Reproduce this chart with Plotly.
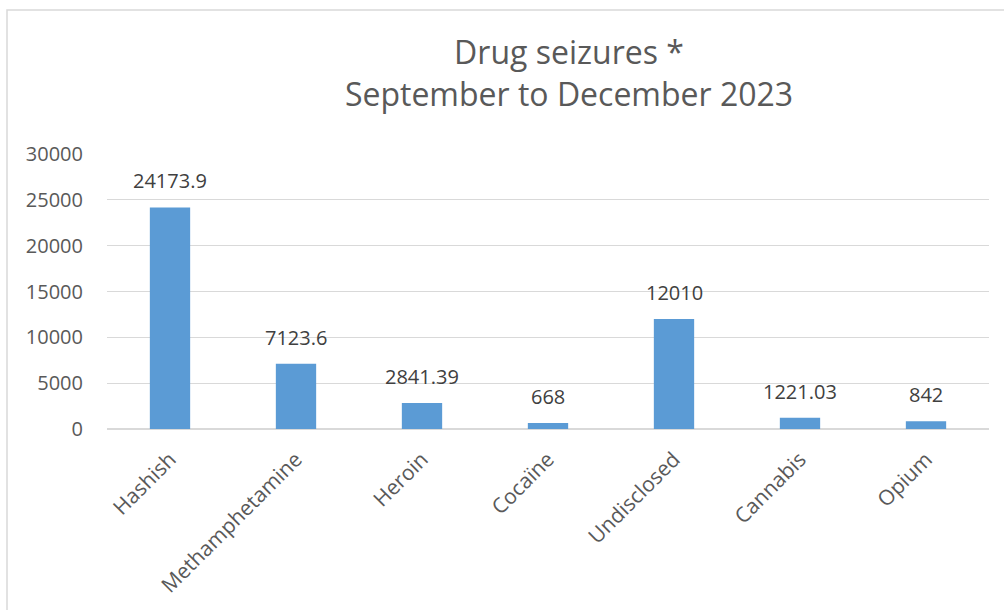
import plotly.graph_objects as go

categories = ["Hashish", "Methamphetamine", "Heroin", "Cocaïne", "Undisclosed", "Cannabis", "Opium"]
values = [24173.9, 7123.6, 2841.39, 668, 12010, 1221.03, 842]
labels = ["24173.9", "7123.6", "2841.39", "668", "12010", "1221.03", "842"]
y_ticks = [0, 5000, 10000, 15000, 20000, 25000, 30000]
y_tick_text = ["0", "5000", "10000", "15000", "20000", "25000", "30000"]

W, H = 1004, 610
ml, mr, mt, mb = 107, 15, 154, 181
pw = W - ml - mr
ph = H - mt - mb

font = "'Open Sans', sans-serif"
grey = "#595959"

fig = go.Figure(go.Bar(
    x=categories, y=values,
    marker=dict(color="#5B9BD5", line=dict(width=0)),
))

for c, v, t in zip(categories, values, labels):
    fig.add_annotation(x=c, y=v, text=t, showarrow=False, yanchor="bottom",
                       yshift=11, font=dict(size=20, color="#404040", family=font))

fig.update_layout(
    width=W, height=H,
    margin=dict(l=ml, r=mr, t=mt, b=mb, autoexpand=False),
    paper_bgcolor="white", plot_bgcolor="white",
    bargap=0.68,
    showlegend=False,
    title=dict(text="Drug seizures *<br>September to December 2023",
               x=569 / W, xanchor="center",
               y=1 - 64 / H, yanchor="middle",
               font=dict(size=32, color=grey, family=font)),
    xaxis=dict(tickangle=-45, tickfont=dict(size=21, color=grey, family=font),
               showline=False, showgrid=False, ticks="", ticklabelstandoff=13,
               automargin=False),
    yaxis=dict(range=[0, 30000], tickvals=y_ticks, ticktext=y_tick_text,
               tickfont=dict(size=20, color=grey, family=font),
               showgrid=True, gridcolor="#D9D9D9", gridwidth=1, zeroline=True,
               zerolinecolor="#D9D9D9", zerolinewidth=2, ticks="", ticklabelstandoff=23,
               automargin=False),
)

# chart border
fig.add_shape(type="rect", xref="paper", yref="paper",
              x0=(7 - ml) / pw, x1=(1010 - ml) / pw,
              y0=-(620 - ph - mt) / ph, y1=1 + (mt - 10) / ph,
              line=dict(color="#D9D9D9", width=1.5), fillcolor="rgba(0,0,0,0)", layer="below")

fig.write_html("out.html", config={"displayModeBar": False},
               post_script="document.body.style.margin='0px';")
